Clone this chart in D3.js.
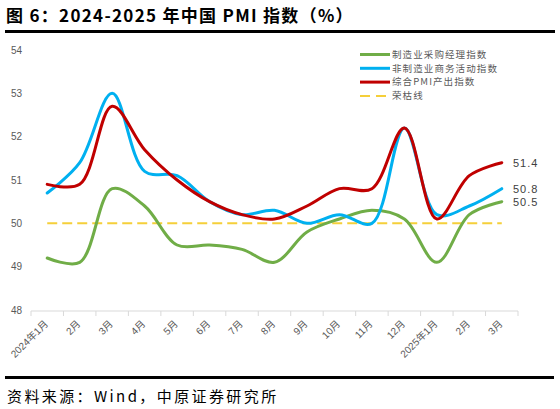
<!DOCTYPE html>
<html>
<head>
<meta charset="utf-8">
<script src="https://cdn.jsdelivr.net/npm/d3@7"></script>
<style>
  html, body { margin: 0; padding: 0; background: #fff; }
  svg { display: block; }
</style>
</head>
<body>
<div id="chart"></div>
<script>
// --- データ ---
const months = ["2024年1月", "2月", "3月", "4月", "5月", "6月", "7月", "8月", "9月", "10月", "11月", "12月", "2025年1月", "2月", "3月"];
const manufacturing = [49.2, 49.1, 50.8, 50.4, 49.5, 49.5, 49.4, 49.1, 49.8, 50.1, 50.3, 50.1, 49.1, 50.2, 50.5];
const nonManufacturing = [50.7, 51.4, 53.0, 51.2, 51.1, 50.5, 50.2, 50.3, 50.0, 50.2, 50.0, 52.2, 50.2, 50.4, 50.8];
const composite = [50.9, 50.9, 52.7, 51.7, 51.0, 50.5, 50.2, 50.1, 50.4, 50.8, 50.8, 52.2, 50.1, 51.1, 51.4];
const boomLine = 50;
const yTicks = [48, 49, 50, 51, 52, 53, 54];
const seriesNames = ["制造业采购经理指数", "非制造业商务活动指数", "综合PMI产出指数", "荣枯线"];

const W = 560, H = 409;
const sansFont = "'Liberation Sans', Arial, 'Noto Sans CJK SC', sans-serif";
const cjkFont = "'Noto Sans CJK SC', sans-serif";

const svg = d3.select("#chart").append("svg")
  .attr("width", W)
  .attr("height", H);

// タイトル
svg.append("text")
  .attr("x", 6)
  .attr("y", 22)
  .attr("fill", "#000")
  .style("font-family", cjkFont)
  .style("font-size", "17px")
  .style("font-weight", "bold")
  .style("letter-spacing", "1.3px")
  .attr("xml:space", "preserve")
  .text("图 6：2024-2025 年中国 PMI 指数（%）");

svg.append("rect").attr("x", 5).attr("y", 30).attr("width", 550).attr("height", 3).attr("fill", "#000");
svg.append("rect").attr("x", 5).attr("y", 376).attr("width", 549).attr("height", 3).attr("fill", "#000");

// 出典
svg.append("text")
  .attr("x", 7)
  .attr("y", 402)
  .attr("fill", "#000")
  .style("font-family", cjkFont)
  .style("font-size", "15px")
  .style("letter-spacing", "2.4px")
  .text("资料来源：Wind，中原证券研究所");

// スケール
const x = d3.scaleBand().domain(months.map((m, i) => i)).range([31, 518]);
const y = d3.scaleLinear().domain([48, 54]).range([310, 50]);
const cx = i => x(i) + x.bandwidth() / 2;

// Y軸ラベル
svg.append("g")
  .selectAll("text")
  .data(yTicks)
  .enter()
  .append("text")
  .attr("x", 22)
  .attr("y", d => y(d))
  .attr("dy", "0.35em")
  .attr("text-anchor", "end")
  .attr("fill", "#595959")
  .style("font-family", sansFont)
  .style("font-size", "10px")
  .text(d => d);

// X軸
const xAxis = svg.append("g").attr("transform", "translate(0,311)");
xAxis.append("line")
  .attr("x1", 31).attr("x2", 518)
  .attr("stroke", "#d9d9d9").attr("stroke-width", 1);
xAxis.selectAll(".tick")
  .data(d3.range(months.length + 1))
  .enter()
  .append("line")
  .attr("x1", i => i < months.length ? x(i) : 518)
  .attr("x2", i => i < months.length ? x(i) : 518)
  .attr("y1", 0).attr("y2", 5)
  .attr("stroke", "#d9d9d9");
xAxis.selectAll(".lbl")
  .data(months)
  .enter()
  .append("text")
  .attr("transform", (d, i) => `translate(${cx(i) - 1},${11}) rotate(-45)`)
  .attr("text-anchor", "end")
  .attr("dy", "0.35em")
  .attr("fill", "#595959")
  .style("font-family", sansFont)
  .style("font-size", "10px")
  .text(d => d);

// 荣枯线
svg.append("line")
  .attr("x1", cx(0)).attr("x2", cx(months.length - 1))
  .attr("y1", y(boomLine)).attr("y2", y(boomLine))
  .attr("stroke", "#f5cf3a")
  .attr("stroke-width", 2)
  .attr("stroke-dasharray", "10,5");

// 折れ線
const line = d3.line()
  .x((d, i) => cx(i))
  .y(d => y(d))
  .curve(d3.curveCatmullRom.alpha(0.5));

const series = [
  { values: manufacturing, color: "#70ad47" },
  { values: nonManufacturing, color: "#00b0f0" },
  { values: composite, color: "#c00000" }
];

svg.append("g")
  .selectAll("path")
  .data(series)
  .enter()
  .append("path")
  .attr("d", d => line(d.values))
  .attr("fill", "none")
  .attr("stroke", d => d.color)
  .attr("stroke-width", 3)
  .attr("stroke-linecap", "round");

// 末尾の値ラベル
svg.append("g")
  .selectAll("text")
  .data(series)
  .enter()
  .append("text")
  .attr("x", 513)
  .attr("y", d => y(d.values[d.values.length - 1]))
  .attr("dy", "0.35em")
  .attr("fill", "#404040")
  .style("font-family", sansFont)
  .style("font-size", "11px")
  .style("letter-spacing", "1px")
  .text(d => d3.format(".1f")(d.values[d.values.length - 1]));

// 凡例
const legendItems = [
  { name: seriesNames[0], color: "#70ad47", dash: null },
  { name: seriesNames[1], color: "#00b0f0", dash: null },
  { name: seriesNames[2], color: "#c00000", dash: null },
  { name: seriesNames[3], color: "#f5cf3a", dash: "10,6" }
];
const legend = svg.append("g")
  .selectAll("g")
  .data(legendItems)
  .enter()
  .append("g")
  .attr("transform", (d, i) => `translate(360,${54.5 + i * 13.8})`);
legend.append("line")
  .attr("x1", 0).attr("x2", 30)
  .attr("stroke", d => d.color)
  .attr("stroke-width", d => d.dash ? 2 : 3)
  .attr("stroke-dasharray", d => d.dash);
legend.append("text")
  .attr("x", 32)
  .attr("dy", "0.35em")
  .attr("fill", "#595959")
  .style("font-family", cjkFont)
  .style("font-size", "9.5px")
  .style("letter-spacing", "1.1px")
  .text(d => d.name);
</script>
</body>
</html>
